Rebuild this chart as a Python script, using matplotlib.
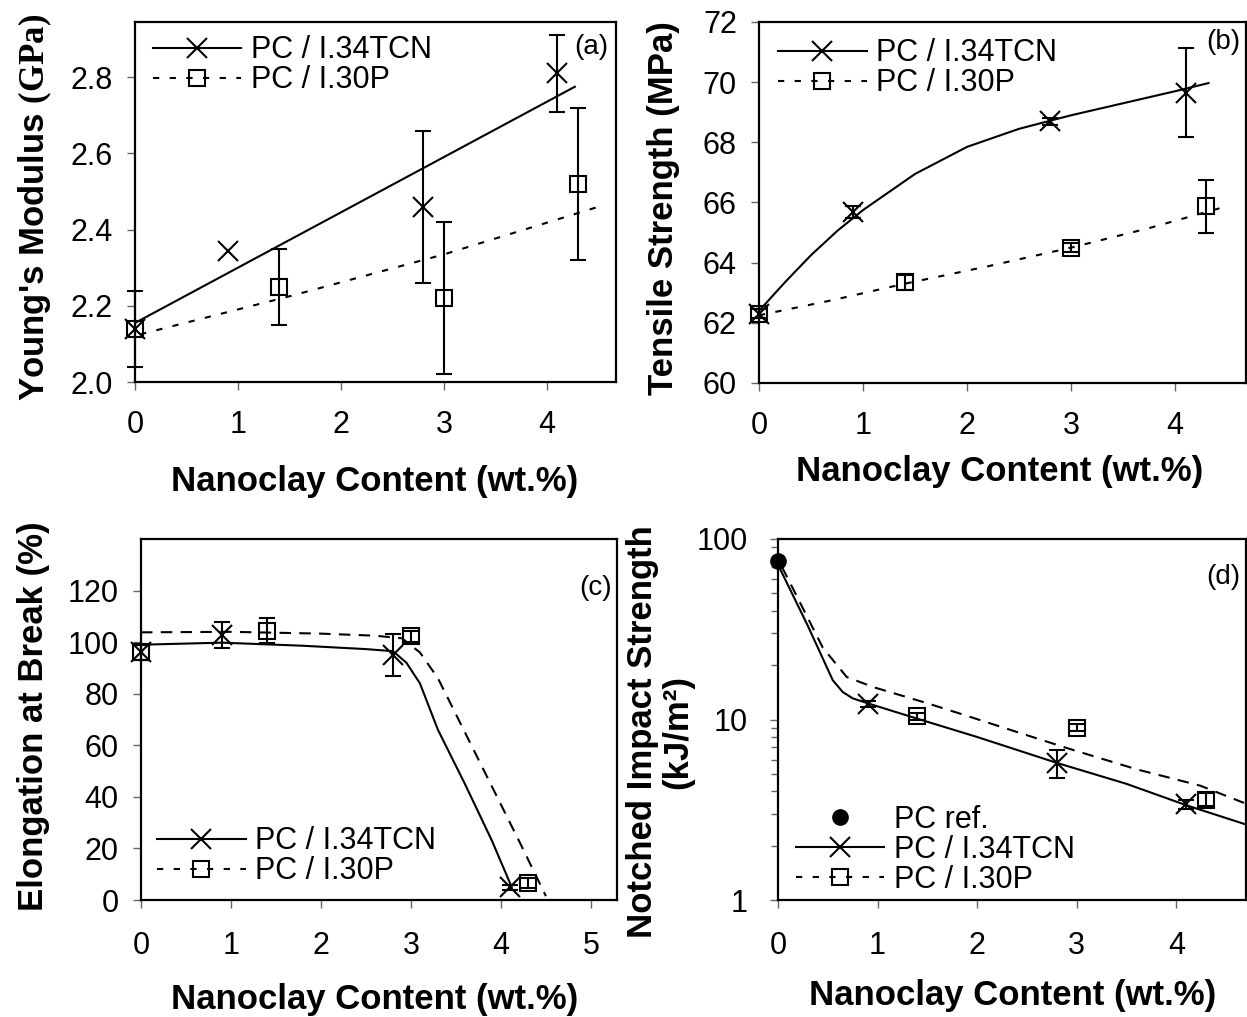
"""
Mechanical properties of PC / nanoclay composites: four-panel figure.
"""

import numpy as np
import matplotlib

matplotlib.use("Agg")
import matplotlib.pyplot as plt
from matplotlib.lines import Line2D

plt.rcParams["font.family"] = ["Liberation Sans", "DejaVu Sans"]
plt.rcParams["mathtext.fontset"] = "custom"
plt.rcParams["mathtext.rm"] = "Liberation Serif"
plt.rcParams["mathtext.bf"] = "Liberation Serif:bold"

# nanoclay loadings (wt.%)
tcn_x = [0, 0.9, 2.8, 4.1]
p30_x = [0, 1.4, 3.0, 4.3]

# (a) Young's modulus (GPa)
modulus_tcn = [2.14, 2.345, 2.46, 2.81]
modulus_tcn_err = [0.10, np.nan, 0.20, 0.10]
modulus_p30 = [2.14, 2.25, 2.22, 2.52]
modulus_p30_err = [np.nan, 0.10, 0.20, 0.20]
modulus_fit_tcn_x = [0, 4.27]
modulus_fit_tcn = [2.155, 2.775]
modulus_fit_p30_x = [0.05, 1.5, 3.0, 4.5]
modulus_fit_p30 = [2.125, 2.225, 2.335, 2.46]

# (b) tensile strength (MPa)
strength_tcn = [62.3, 65.7, 68.7, 69.65]
strength_tcn_err = [0.15, 0.2, 0.12, 1.47]
strength_p30 = [62.3, 63.35, 64.5, 65.87]
strength_p30_err = [0.15, 0.25, 0.15, 0.88]
strength_fit_tcn_x = [0, 0.25, 0.5, 0.75, 1.0, 1.5, 2.0, 2.5, 3.0, 3.5, 4.0, 4.32]
strength_fit_tcn = [62.4, 63.35, 64.25, 65.05, 65.75, 66.95, 67.85, 68.45, 68.9, 69.3, 69.7, 69.97]
strength_fit_p30_x = [0, 0.7, 1.4, 2.2, 3.0, 3.75, 4.5]
strength_fit_p30 = [62.25, 62.75, 63.3, 63.88, 64.5, 65.15, 65.88]

# (c) elongation at break (%)
elong_tcn = [96, 102.8, 95, 5]
elong_tcn_err = [3, 5.2, 8, 1]
elong_p30 = [96, 104.5, 102.2, 6.6]
elong_p30_err = [3, 4.7, 2, 2]
elong_fit_tcn_x = [0, 0.9, 1.8, 2.5, 2.8, 2.95, 3.1, 3.3, 3.6, 3.9, 4.12]
elong_fit_tcn = [99, 99.8, 98.6, 97.3, 96.5, 92, 84, 66, 45, 23, 5]
elong_fit_p30_x = [0, 1.0, 2.0, 2.6, 2.9, 3.1, 3.3, 3.6, 3.9, 4.2, 4.5]
elong_fit_p30 = [103.8, 104, 103.3, 102.5, 101.5, 96, 86, 65, 44, 23, 1.5]

# (d) notched impact strength (kJ/m2)
impact_ref_x = [0]
impact_ref = [76]
impact_tcn_x = [0.9, 2.8, 4.1]
impact_tcn = [12.2, 5.75, 3.4]
impact_tcn_err = [0.5, 1.0, 0.2]
impact_p30_x = [1.4, 3.0, 4.3]
impact_p30 = [10.4, 9.0, 3.6]
impact_p30_err = [0.4, 0.4, 0.3]
impact_fit_tcn_x = [0, 0.3, 0.55, 0.65, 0.75, 0.9, 1.4, 2.0, 2.8, 3.5, 4.1, 4.7]
impact_fit_tcn = [72, 33, 16.5, 14.2, 13.1, 12.3, 10.1, 8.0, 5.75, 4.4, 3.35, 2.62]
impact_fit_p30_x = [0.04, 0.45, 0.69, 0.96, 1.5, 1.8, 2.9, 3.6, 4.24, 4.68]
impact_fit_p30 = [70, 25, 17.2, 15.1, 12.3, 10.9, 6.95, 5.3, 4.3, 3.45]

LABEL_TCN = "PC / I.34TCN"
LABEL_P30 = "PC / I.30P"
DOTTED = (0, (3, 5))
DASHED = (0, (5.5, 4))
W, H = 1247, 1017


def add_axes_px(fig, left, top, right, bottom):
    """Place an axes from pixel edges of the figure."""
    return fig.add_axes([left / W, 1 - bottom / H, (right - left) / W, (bottom - top) / H])


def style_axes(ax, xpad=14, ypad=10):
    for spine in ax.spines.values():
        spine.set_linewidth(1.6)
    ax.tick_params(axis="both", which="both", direction="out", color="#666666",
                   width=1, labelsize=22)
    ax.tick_params(axis="both", which="major", length=6)
    ax.tick_params(axis="x", pad=xpad)
    ax.tick_params(axis="y", pad=ypad)


def draw_points(ax, x, y, err, marker, size):
    bars = ax.errorbar(x, y, yerr=err, fmt=marker, color="black", ms=size, mew=1.5,
                       mfc="none", ecolor="black", elinewidth=1.5, capsize=6,
                       capthick=1.5, zorder=3)
    for artist in bars.get_children():
        artist.set_clip_on(False)


def legend_handles(with_ref=False):
    handles = [
        Line2D([], [], color="black", lw=1.5, marker="x", ms=14, mew=1.5),
        Line2D([], [], color="black", lw=1.5, ls=DOTTED, marker="s", ms=12,
               mfc="none", mew=1.5),
    ]
    labels = [LABEL_TCN, LABEL_P30]
    if with_ref:
        handles.insert(0, Line2D([], [], color="black", ls="none", marker="o", ms=11))
        labels.insert(0, "PC ref.")
    return handles, labels


def add_legend(ax, loc, anchor, with_ref=False):
    handles, labels = legend_handles(with_ref)
    ax.legend(handles, labels, loc=loc, bbox_to_anchor=anchor, frameon=False,
              fontsize=22, handlelength=2.9, handletextpad=0.3,
              labelspacing=0.0, borderpad=0, borderaxespad=0)


fig = plt.figure(figsize=(W / 100, H / 100), dpi=100)

# (a) Young's modulus
ax = add_axes_px(fig, 135, 22, 616, 382)
ax.plot(modulus_fit_tcn_x, modulus_fit_tcn, color="black", lw=1.5)
ax.plot(modulus_fit_p30_x, modulus_fit_p30, color="black", lw=1.5, ls=DOTTED)
draw_points(ax, tcn_x, modulus_tcn, modulus_tcn_err, "x", 14)
draw_points(ax, p30_x, modulus_p30, modulus_p30_err, "s", 12)
ax.set_xlim(0, 4.67)
ax.set_ylim(2.0, 2.945)
ax.set_xticks([0, 1, 2, 3, 4])
ax.set_yticks([2.0, 2.2, 2.4, 2.6, 2.8])
ax.set_yticklabels(["2.0", "2.2", "2.4", "2.6", "2.8"])
style_axes(ax)
add_legend(ax, "upper left", (0.037, 0.963))
ax.text(0.985, 0.93, "(a)", transform=ax.transAxes, ha="right", va="center", fontsize=20)
fig.text(35 / W, 1 - 207 / H, r"Young's Modulus $\mathbf{(GPa)}$", rotation=90,
         ha="center", va="center", fontsize=25, fontweight="bold")
fig.text(375 / W, 1 - 482 / H, "Nanoclay Content (wt.%)", ha="center", va="center",
         fontsize=25, fontweight="bold")

# (b) tensile strength
ax = add_axes_px(fig, 759, 22, 1246, 383)
ax.plot(strength_fit_tcn_x, strength_fit_tcn, color="black", lw=1.5)
ax.plot(strength_fit_p30_x, strength_fit_p30, color="black", lw=1.5, ls=DOTTED)
draw_points(ax, tcn_x, strength_tcn, strength_tcn_err, "x", 14)
draw_points(ax, p30_x, strength_p30, strength_p30_err, "s", 12)
ax.set_xlim(0, 4.68)
ax.set_ylim(60, 72)
ax.set_xticks([0, 1, 2, 3, 4])
ax.set_yticks([60, 62, 64, 66, 68, 70, 72])
style_axes(ax)
add_legend(ax, "upper left", (0.039, 0.955))
ax.text(0.988, 0.945, "(b)", transform=ax.transAxes, ha="right", va="center", fontsize=20)
fig.text(663 / W, 1 - 208 / H, "Tensile Strength (MPa)", rotation=90,
         ha="center", va="center", fontsize=25, fontweight="bold")
fig.text(1000 / W, 1 - 472 / H, "Nanoclay Content (wt.%)", ha="center", va="center",
         fontsize=25, fontweight="bold")

# (c) elongation at break
ax = add_axes_px(fig, 141, 539, 617, 900)
ax.plot(elong_fit_tcn_x, elong_fit_tcn, color="black", lw=1.5)
ax.plot(elong_fit_p30_x, elong_fit_p30, color="black", lw=1.5, ls=DASHED)
draw_points(ax, tcn_x, elong_tcn, elong_tcn_err, "x", 14)
draw_points(ax, p30_x, elong_p30, elong_p30_err, "s", 12)
ax.set_xlim(0, 5.29)
ax.set_ylim(0, 140)
ax.set_xticks([0, 1, 2, 3, 4, 5])
ax.set_yticks([0, 20, 40, 60, 80, 100, 120])
style_axes(ax, xpad=16, ypad=10)
add_legend(ax, "lower left", (0.034, 0.038))
ax.text(0.99, 0.864, "(c)", transform=ax.transAxes, ha="right", va="center", fontsize=20)
fig.text(34 / W, 1 - 716 / H, "Elongation at Break (%)", rotation=90,
         ha="center", va="center", fontsize=25, fontweight="bold")
fig.text(375 / W, 1 - 1000 / H, "Nanoclay Content (wt.%)", ha="center", va="center",
         fontsize=25, fontweight="bold")

# (d) notched impact strength, log scale
ax = add_axes_px(fig, 778, 539, 1246, 900)
ax.set_yscale("log")
ax.plot(impact_fit_tcn_x, impact_fit_tcn, color="black", lw=1.5)
ax.plot(impact_fit_p30_x, impact_fit_p30, color="black", lw=1.5, ls=DASHED)
draw_points(ax, impact_tcn_x, impact_tcn, impact_tcn_err, "x", 14)
draw_points(ax, impact_p30_x, impact_p30, impact_p30_err, "s", 12)
ax.plot(impact_ref_x, impact_ref, "o", color="black", ms=11, zorder=4, clip_on=False)
ax.set_xlim(0, 4.7)
ax.set_ylim(1, 100)
ax.set_xticks([0, 1, 2, 3, 4])
ax.set_yticks([1, 10, 100])
ax.set_yticklabels(["1", "10", "100"])
style_axes(ax, xpad=16, ypad=16)
ax.tick_params(axis="y", which="minor", length=5)
ax.tick_params(axis="y", which="minor", labelleft=False)
add_legend(ax, "lower left", (0.038, 0.014), with_ref=True)
ax.text(0.987, 0.895, "(d)", transform=ax.transAxes, ha="right", va="center", fontsize=20)
fig.text(660 / W, 1 - 732 / H, "Notched Impact Strength\n(kJ/m²)", rotation=90,
         ha="center", va="center", fontsize=25, fontweight="bold", linespacing=1.1)
fig.text(1013 / W, 1 - 995 / H, "Nanoclay Content (wt.%)", ha="center", va="center",
         fontsize=25, fontweight="bold")

fig.savefig("out.png", dpi=100)
